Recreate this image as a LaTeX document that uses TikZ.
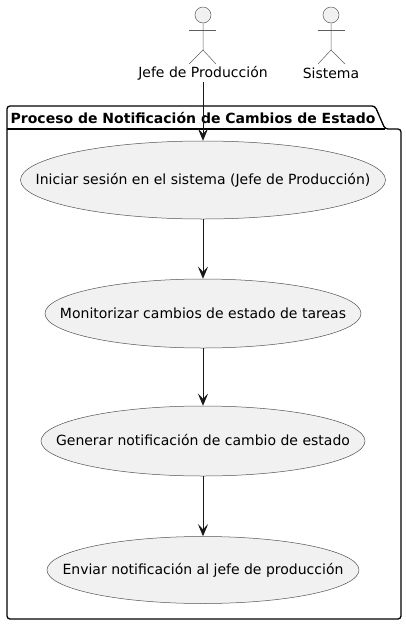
\documentclass[tikz,border=0pt]{standalone}
\usepackage{fontspec}
\setmainfont{DejaVu Sans}
\usetikzlibrary{shapes.geometric, arrows.meta}
\definecolor{usefill}{HTML}{F1F1F1}
\definecolor{useline}{HTML}{181818}
\newcommand{\usetext}[1]{\raisebox{1.5pt}{\makebox[0pt]{#1}}}
\tikzstyle{usecase} = [ellipse, inner sep=0pt, text centered, draw=useline!75, line width=0.5pt, fill=usefill, font=\fontsize{14}{16}\selectfont]
\tikzstyle{arrow} = [line width=1pt, draw=useline, -{Stealth[length=12pt,width=10pt,inset=5pt]}]
\tikzstyle{head} = [circle, minimum size=16pt, inner sep=0pt, draw=useline!70, line width=0.5pt, fill=usefill]
\tikzstyle{limb} = [draw=useline!70, line width=0.5pt]
\tikzstyle{actorlabel} = [font=\fontsize{14}{16}\selectfont, inner sep=0pt, minimum height=18pt]
\tikzstyle{package} = [draw=black, line width=1.3pt, rounded corners=3pt]

\begin{document}
\begin{tikzpicture}[x=1pt, y=-1pt]
\useasboundingbox (0,0) rectangle (406,625);

% --------- Package ----------
\draw [package] (7,129) -- (7,106) -- (375,106) -- (385,129) -- (401,129) -- (401,619) -- (7,619) -- cycle;
\draw [black, line width=1.3pt] (7,129) -- (385,129);
\node (TITLE) [anchor=west, inner sep=0pt, font=\fontsize{14}{16}\selectfont\bfseries] at (10.5,118) {Proceso de Notificación de Cambios de Estado};

% --------- Actors ----------
\node (JEFEhead) [head] at (203,15) {};
\node (JEFE)     [actorlabel] at (203,73) {Jefe de Producción};
\draw [limb] (JEFEhead) -- (203,50) -- (189,64);
\draw [limb] (203,50) -- (216,64);
\draw [limb] (189,30) -- (216,30);

\node (SIShead) [head] at (331,15) {};
\node (SIS)     [actorlabel] at (331,73) {Sistema};
\draw [limb] (SIShead) -- (331,50) -- (318,64);
\draw [limb] (331,50) -- (345,64);
\draw [limb] (318,30) -- (345,30);

% --------- Use cases ----------
\node (LOGIN)   [usecase, minimum width=365pt, minimum height=78pt] at (203,180) {\usetext{Iniciar sesión en el sistema (Jefe de Producción)}};
\node (MONITOR) [usecase, minimum width=316pt, minimum height=69pt] at (203,313.5) {\usetext{Monitorizar cambios de estado de tareas}};
\node (GENERAR) [usecase, minimum width=324pt, minimum height=70pt] at (203,441) {\usetext{Generar notificación de cambio de estado}};
\node (ENVIAR)  [usecase, minimum width=312pt, minimum height=67pt] at (203,570) {\usetext{Enviar notificación al jefe de producción}};

% Edges
\draw [arrow] (JEFE) -- (LOGIN);
\draw [arrow] (LOGIN) -- (MONITOR);
\draw [arrow] (MONITOR) -- (GENERAR);
\draw [arrow] (GENERAR) -- (ENVIAR);

\end{tikzpicture}
\end{document}
